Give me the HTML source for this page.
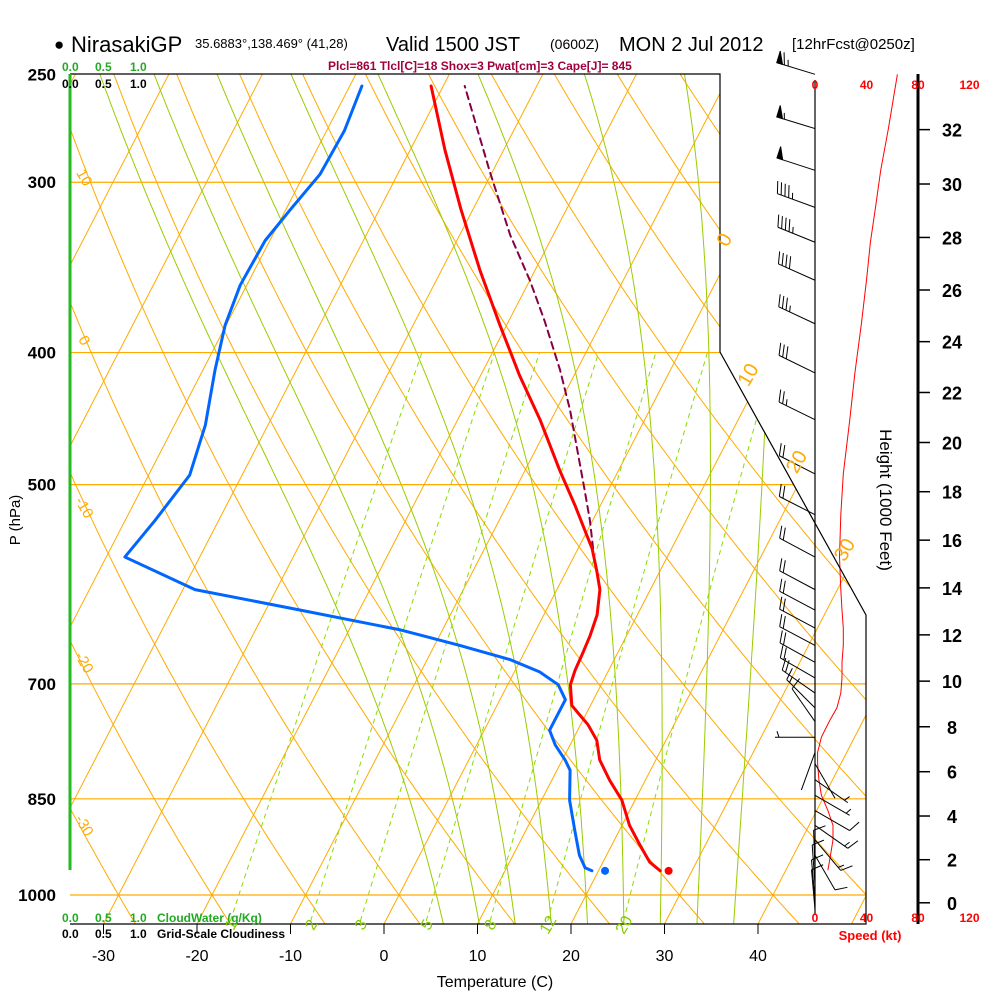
<!DOCTYPE html>
<html><head><meta charset="utf-8"><style>
html,body{margin:0;padding:0;background:#fff;}
svg{display:block;font-family:"Liberation Sans",sans-serif;}
</style></head><body>
<svg id="chart" width="1000" height="1000" viewBox="0 0 1000 1000" xmlns="http://www.w3.org/2000/svg">
<defs><clipPath id="plotclip"><polygon points="70,74 720,74 720,352 866,615 866,924 70,924"/></clipPath></defs>
<g id="bg" clip-path="url(#plotclip)"></g>
<g id="isobars"></g>
<g id="series" clip-path="url(#plotclip)"></g>
<g id="wind"></g>
<g id="axes"></g>
<g id="labels">
  <text x="54" y="50" font-size="17">●</text>
  <text x="71" y="52" font-size="22">NirasakiGP</text>
  <text x="195" y="48" font-size="13">35.6883°,138.469° (41,28)</text>
  <text x="386" y="51" font-size="20">Valid 1500 JST</text>
  <text x="550" y="49" font-size="14">(0600Z)</text>
  <text x="619" y="51" font-size="20">MON 2 Jul 2012</text>
  <text x="792" y="49" font-size="15">[12hrFcst@0250z]</text>
  <text x="328" y="70" font-size="12" font-weight="bold" fill="#a0003c">Plcl=861 Tlcl[C]=18 Shox=3 Pwat[cm]=3 Cape[J]= 845</text>
  <text x="62" y="71" font-size="12" font-weight="bold" fill="#22aa22">0.0 <tspan x="95">0.5</tspan><tspan x="130">1.0</tspan></text>
  <text x="62" y="88" font-size="12" font-weight="bold" fill="#000">0.0 <tspan x="95">0.5</tspan><tspan x="130">1.0</tspan></text>
  <text x="62" y="922" font-size="12" font-weight="bold" fill="#22aa22">0.0 <tspan x="95">0.5</tspan><tspan x="130">1.0</tspan><tspan x="157">CloudWater (g/Kg)</tspan></text>
  <text x="62" y="938" font-size="12" font-weight="bold" fill="#000">0.0 <tspan x="95">0.5</tspan><tspan x="130">1.0</tspan><tspan x="157">Grid-Scale Cloudiness</tspan></text>
  <text x="495" y="987" font-size="16" text-anchor="middle">Temperature (C)</text>
  <text transform="translate(20,520) rotate(-90)" font-size="15" text-anchor="middle">P (hPa)</text>
  <text transform="translate(880,500) rotate(90)" font-size="17" text-anchor="middle">Height (1000 Feet)</text>
  <text x="870" y="940" font-size="13" font-weight="bold" fill="#ff0000" text-anchor="middle">Speed (kt)</text>
</g>
</svg>
<script>
// ---- data ----
const tempP = [960,946,919,889,852,824,796,770,750,738,726,701,684,667,645,623,597,578,557,540,518,488,448,416,382,348,314,284,255];
const tempT = [26.6,25.0,23.0,20.8,18.6,16.2,14.0,12.6,10.8,9.4,8.0,6.7,6.4,6.3,6.1,5.7,4.6,3.2,1.5,-0.3,-2.7,-6.3,-11.2,-15.8,-20.7,-25.9,-31.3,-36.3,-41.3];
const dewP = [960,955,935,896,852,810,796,776,757,738,719,701,686,672,656,639,618,597,565,531,492,452,412,382,357,331,314,296,275,255];
const dewT = [19.3,18.4,17.1,15.2,13.0,11.4,10.3,8.4,7.0,7.0,7.0,5.4,2.7,-1.1,-7.3,-14.5,-26.3,-38.7,-48.0,-46.8,-45.6,-46.7,-48.7,-50.1,-50.7,-50.5,-49.5,-48.3,-48.1,-48.7];
const parcelP = [557,531,505,472,441,412,379,354,328,294,255];
const parcelT = [1.6,-0.3,-2.5,-5.5,-8.5,-11.8,-16.2,-20.0,-24.6,-30.4,-37.7];
const sfcT = [27.5];
const sfcTd = [20.7];
const sfcP = [960];
const windP = [250,274,294,313,332,354,381,414,448,491,526,565,597,618,637,656,675,693,711,729,746,766,786,801,823,845,867,889,911,935,959,983,1008,1025];
const windSpd = [64,57,51,47,43,40,36,31,27,22,20,19,20,21,22,22,21,21,20,17,11,5,2,2,3,5,10,14,14,12,10,10,10,10];
const windDir = [287,287,288,290,292,294,295,296,296,297,297,298,298,298,298,298,299,300,305,315,325,270,200,150,125,120,120,125,140,150,358,356,355,355];
const tempTicks = [-30,-20,-10,0,10,20,30,40];
const presTicks = [250,300,400,500,700,850,1000];
const heightTicks = [0,2,4,6,8,10,12,14,16,18,20,22,24,26,28,30,32];
const speedTicks = [0,40,80,120];
const mixRatios = [1,2,3,5,8,12,20];
const dryThetas = [-40,-30,-20,-10,0,10,20,30,40,50,60,70,80,90,100,110,120,130,140,150,160,170,180];
const moistThw = [4,8,12,16,20,24,28,32,36];
const isoTemps = [-110,-100,-90,-80,-70,-60,-50,-40,-30,-20,-10,0,10,20,30,40,50];

// ---- axis functions ----
const NS="http://www.w3.org/2000/svg";
function yP(p){return 895-592*Math.log(1000/p);}
function xT(T,y){return 384+9.35*T+0.517*(924-y);}
function pt(p,T){const y=yP(p);return [xT(T,y),y];}
function el(tag,attrs,parent){const e=document.createElementNS(NS,tag);for(const k in attrs)e.setAttribute(k,attrs[k]);parent.appendChild(e);return e;}
function pathFrom(pts){return pts.map((q,i)=>(i?'L':'M')+q[0].toFixed(1)+','+q[1].toFixed(1)).join(' ');}
const bg=document.getElementById('bg'),iso=document.getElementById('isobars'),ser=document.getElementById('series'),wind=document.getElementById('wind'),axes=document.getElementById('axes'),lab=document.getElementById('labels');
const ORANGE='#ffaa00',GREEN='#99cc00';

isoTemps.forEach(T=>{
  const l=el('line',{x1:xT(T,924),y1:924,x2:xT(T,74),y2:74,stroke:ORANGE,'stroke-width':1},bg);
  
  
});
dryThetas.forEach(th=>{
  const pts=[];for(let p=1060;p>=240;p-=10){pts.push(pt(p,(th+273.15)*Math.pow(p/1000,0.2857)-273.15));}
  const e=el('path',{d:pathFrom(pts),fill:'none',stroke:ORANGE,'stroke-width':1},bg);
  
  
});
function es(Tc){return 6.112*Math.exp(17.67*Tc/(Tc+243.5));}
function dTdp(p,T){const Tc=T-273.15;const e=es(Tc);const rs=0.622*e/(p-e);const L=2.5e6,Rd=287,cp=1004;return (Rd*T+L*rs)/(p*(cp+L*L*rs*0.622/(Rd*T*T)));}
moistThw.forEach(tw=>{
  const up=[];let T=tw+273.15;for(let p=1000;p>=240;p-=2){up.push(pt(p,T-273.15));T-=dTdp(p,T)*2;}
  const dn=[];T=tw+273.15;for(let p=1000;p<=1060;p+=2){dn.push(pt(p,T-273.15));T+=dTdp(p,T)*2;}
  const pts=dn.reverse().concat(up);
  const e=el('path',{d:pathFrom(pts),fill:'none',stroke:GREEN,'stroke-width':1},bg);
  
  
});
mixRatios.forEach(w=>{
  const pts=[];for(let p=1060;p>=400;p-=10){const e=w*p/(622+w);const a=Math.log(e/6.112);pts.push(pt(p,243.5*a/(17.67-a)));}
  const e=el('path',{d:pathFrom(pts),fill:'none',stroke:'#88dd00','stroke-width':1,'stroke-dasharray':'5,4'},bg);
  
  
  const p0=1035,ee=w*p0/(622+w),a=Math.log(ee/6.112),q=pt(p0,243.5*a/(17.67-a));
  const t=el('text',{x:q[0],y:q[1]+14,'font-size':16,fill:'#88cc00','text-anchor':'middle',transform:`rotate(-60 ${q[0]} ${q[1]+10})`},lab);
  t.textContent=w;
  
  
});
[[10,180],[0,343],[-10,510],[-20,665],[-30,828]].forEach(([v,y])=>{
  const t=el('text',{x:80,y:y,'font-size':15,fill:ORANGE,'text-anchor':'middle',transform:`rotate(60 80 ${y})`},lab);
  t.textContent=v;
  
  
});
[[0,243],[10,378],[20,465],[30,553]].forEach(([v,y])=>{
  const x=xT(v,y)-6;
  const t=el('text',{x:x,y:y,'font-size':20,fill:ORANGE,'text-anchor':'middle',transform:`rotate(-60 ${x} ${y})`},lab);
  t.textContent=v;
  
  
});
presTicks.forEach(p=>{
  const y=yP(p);const xr=p<=400?720:(p>=700?866:720+146*(y-352)/263);
  if(p!==250){const l=el('line',{x1:70,y1:y,x2:xr,y2:y,stroke:ORANGE,'stroke-width':1.2},iso);
  
  }
  const t=el('text',{x:56,y:y+6,'font-size':17,'font-weight':'bold','text-anchor':'end'},axes);
  t.textContent=p;
  
  
});
const fr=el('polyline',{points:'70,74 720,74 720,352 866,615 866,924 70,924',fill:'none',stroke:'#000','stroke-width':1.2},axes);


const cl=el('line',{x1:70,y1:74,x2:70,y2:870,stroke:'#22bb22','stroke-width':3},axes);


tempTicks.forEach(T=>{
  const x=xT(T,924);
  const l=el('line',{x1:x,y1:924,x2:x,y2:934,stroke:'#000','stroke-width':1},axes);
  
  
  const t=el('text',{x:x,y:961,'font-size':16,'text-anchor':'middle'},axes);
  t.textContent=T;
  
  
});
function series(P,T,attrs,name){const pts=P.map((p,i)=>pt(p,T[i]));const e=el('path',Object.assign({d:pathFrom(pts),fill:'none','stroke-linejoin':'round','stroke-linecap':'round'},attrs),ser);
  
  }
series(parcelP,parcelT,{stroke:'#880044','stroke-width':2,'stroke-dasharray':'7,5'},'parcel-line');
series(dewP,dewT,{stroke:'#0066ff','stroke-width':3},'dewpoint-line');
series(tempP,tempT,{stroke:'#ff0000','stroke-width':3},'temperature-line');
{const q=pt(sfcP[0],sfcT[0]);const c=el('circle',{cx:q[0],cy:q[1],r:4,fill:'#ff0000'},ser);


const q2=pt(sfcP[0],sfcTd[0]);const c2=el('circle',{cx:q2[0],cy:q2[1],r:4,fill:'#0066ff'},ser);

}

function xS(s){return 815+s*51.5/40;}
function yH(kft){const p=1013.25*Math.pow(1-6.8756e-6*kft*1000,5.2559);return yP(p);}
const st=el('line',{x1:815,y1:80,x2:815,y2:915,stroke:'#000','stroke-width':1.2},wind);


const ha=el('line',{x1:918,y1:74,x2:918,y2:924,stroke:'#000','stroke-width':3},wind);


heightTicks.forEach(h=>{const y=yH(h);
  const l=el('line',{x1:918,y1:y,x2:930,y2:y,stroke:'#000','stroke-width':1.5},wind);
  
  
  const t=el('text',{x:952,y:y+7,'font-size':18,'font-weight':'bold','text-anchor':'middle'},wind);
  t.textContent=h;
  
  
});
speedTicks.forEach(s=>{[89,922].forEach(y=>{
  const t=el('text',{x:xS(s),y:y,'font-size':12,'font-weight':'bold',fill:'#ff0000','text-anchor':'middle'},wind);
  t.textContent=s;
  
  
});});
{const pts=windP.filter(p=>p<=sfcP[0]).map((p,i)=>[xS(windSpd[i]),yP(p)]);
const e=el('path',{d:pathFrom(pts),fill:'none',stroke:'#ff0000','stroke-width':1},wind);

}
windP.forEach((p,i)=>{
  const y=yP(p),x=815,s=windSpd[i],d=windDir[i]*Math.PI/180;
  const vx=Math.sin(d),vy=-Math.cos(d);
  const L=40;const tx=x+vx*L,ty=y+vy*L;
  const g=el('g',{stroke:'#000','stroke-width':1,fill:'#000'},wind);
  
  
  el('line',{x1:x,y1:y,x2:tx,y2:ty},g);
  let fx=-vy,fy=vx; if(fy>0.01||(Math.abs(fy)<=0.01&&fx>0)){fx=vy;fy=-vx;}
  let rem=Math.round(s/5)*5,pos=0;
  while(rem>=50){const ax=tx-vx*pos,ay=ty-vy*pos,bx=tx-vx*(pos+6),by=ty-vy*(pos+6);
    el('polygon',{points:`${ax},${ay} ${bx},${by} ${ax+fx*12},${ay+fy*12}`},g);rem-=50;pos+=8;}
  while(rem>=10){const ax=tx-vx*pos,ay=ty-vy*pos;
    el('line',{x1:ax,y1:ay,x2:ax+fx*12+vx*4,y2:ay+fy*12+vy*4},g);rem-=10;pos+=4;}
  if(rem>=5){if(pos===0)pos=4;const ax=tx-vx*pos,ay=ty-vy*pos;
    el('line',{x1:ax,y1:ay,x2:ax+fx*6+vx*2,y2:ay+fy*6+vy*2},g);}
});
</script>
</body></html>
